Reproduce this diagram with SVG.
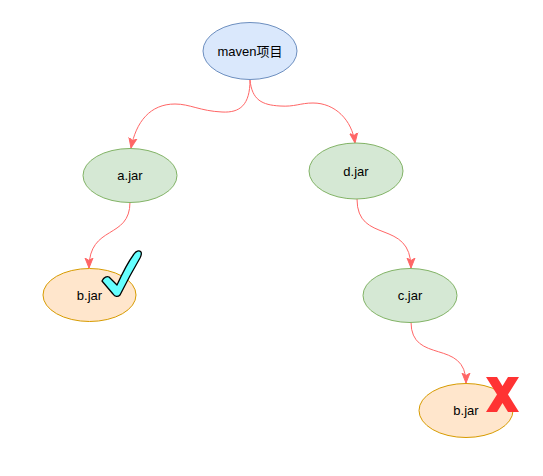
<svg xmlns="http://www.w3.org/2000/svg" width="543" height="476" viewBox="0 0 543 476">
<style>
.blue{fill:#dae8fc;stroke:#6c8ebf;stroke-width:1}
.green{fill:#d5e8d4;stroke:#82b366;stroke-width:1}
.orange{fill:#ffe6cc;stroke:#d79b00;stroke-width:1}
.lbl{font-family:"Liberation Sans","Noto Sans CJK SC",sans-serif;font-size:13px;fill:#000;text-anchor:middle;dominant-baseline:central}
.edge{fill:none;stroke:#FF6666;stroke-width:1}
</style>
<defs>
<marker id="arr" markerUnits="userSpaceOnUse" markerWidth="12" markerHeight="12" viewBox="0 0 12 12" refX="10" refY="6" orient="auto">
<path d="M0,2 L10,6 L0,10 L2.5,6 Z" fill="#FF6666" stroke="#FF6666" stroke-width="1"/>
</marker>
</defs>
<g id="connectors">
<path class="edge" marker-end="url(#arr)" d="M250,80 C250,105 240,113 222,112 C200,111 190,104 175,104 C150,104 136,122 131,148"/>
<path class="edge" marker-end="url(#arr)" d="M250,80 C252,100 262,105 280,106 C295,107 300,103 313,103 C335,103 352,120 355,143"/>
<path class="edge" marker-end="url(#arr)" d="M130,202 C130,240 89,224 89,268"/>
<path class="edge" marker-end="url(#arr)" d="M357,199 C357,245 411,218 411,268"/>
<path class="edge" marker-end="url(#arr)" d="M411,322 C411,365 466,338 466,383"/>
</g>
<g id="maven">
<ellipse class="blue" cx="250" cy="51" rx="47" ry="28.5"/>
<text class="lbl" x="250" y="51">maven项目</text>
</g>
<g id="a-jar">
<ellipse class="green" cx="130" cy="175.5" rx="47" ry="27"/>
<text class="lbl" x="130" y="175.5">a.jar</text>
</g>
<g id="d-jar">
<ellipse class="green" cx="356" cy="171" rx="47" ry="28"/>
<text class="lbl" x="356" y="171">d.jar</text>
</g>
<g id="c-jar">
<ellipse class="green" cx="410" cy="295.5" rx="47" ry="27"/>
<text class="lbl" x="410" y="295.5">c.jar</text>
</g>
<g id="b-jar-left">
<ellipse class="orange" cx="89.5" cy="295" rx="46.5" ry="26.5"/>
<text class="lbl" x="89.5" y="295">b.jar</text>
</g>
<g id="b-jar-right">
<ellipse class="orange" cx="466" cy="410.5" rx="47" ry="27"/>
<text class="lbl" x="466" y="410.5">b.jar</text>
</g>
<g id="check">
<path d="M102,281 C104,277 107,276 109,277 L117,285 C122,274 128,262 134,254 C136,251 139,250 141,252 C142,254 141,256 140,258 C133,270 126,283 120,295 C118,297 115,297 113,294 Z" fill="#66FFFF" stroke="#000" stroke-width="1.3" stroke-linejoin="round"/>
</g>
<g id="cross">
<polygon points="486,377 497,377 502.5,386 508,377 519,377 508,394.5 519,412 508,412 502.5,403 497,412 486,412 497,394.5" fill="#FF3333"/>
</g>
</svg>
